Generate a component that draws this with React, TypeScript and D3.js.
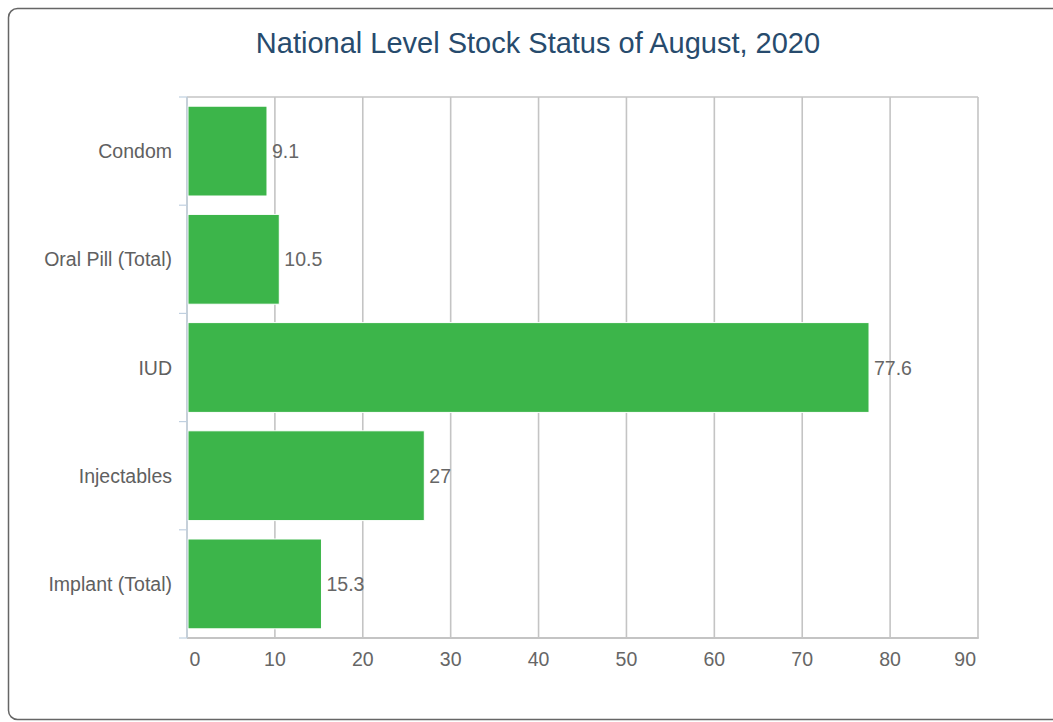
import { useMemo } from "react";
import * as d3 from "d3";

const TITLE = "National Level Stock Status of August, 2020";
const CATEGORIES = ["Condom", "Oral Pill (Total)", "IUD", "Injectables", "Implant (Total)"];
const VALUES = [9.1, 10.5, 77.6, 27, 15.3];
const X_TICKS = [0, 10, 20, 30, 40, 50, 60, 70, 80, 90];

const WIDTH = 1053;
const HEIGHT = 722;
const PLOT = { left: 187, right: 978, top: 97, bottom: 638 };
const FONT = "'Liberation Sans', Arial, sans-serif";
const LABEL_SIZE = 19.5;

export default function App() {
  const xScale = useMemo(
    () => d3.scaleLinear().domain([0, 90]).range([PLOT.left, PLOT.right]),
    []
  );
  const yScale = useMemo(
    () =>
      d3
        .scaleBand()
        .domain(CATEGORIES)
        .range([PLOT.top, PLOT.bottom])
        .paddingInner(0.17)
        .paddingOuter(0.085),
    []
  );
  const step = yScale.step();
  const bandEdges = d3.range(CATEGORIES.length + 1).map((i) => PLOT.top + i * step);

  // first and last tick labels are pushed inside the plot, like the original
  const tickAnchor = (i: number) =>
    i === 0 ? "start" : i === X_TICKS.length - 1 ? "end" : "middle";
  const tickX = (t: number, i: number) =>
    i === 0 ? xScale(t) + 2.5 : i === X_TICKS.length - 1 ? xScale(t) - 2 : xScale(t);

  return (
    <svg
      width={WIDTH}
      height={HEIGHT}
      style={{ position: "absolute", left: 0, top: 0, fontFamily: FONT }}
    >
      <rect x={8.5} y={8.5} width={1100} height={711} rx={9} fill="#fff" stroke="#666" strokeWidth={1.5} />
      <text x={538} y={53} textAnchor="middle" fontSize={29} fill="#274b6d">
        {TITLE}
      </text>

      {/* grid */}
      {X_TICKS.map((t) => (
        <line
          key={t}
          x1={xScale(t)}
          x2={xScale(t)}
          y1={PLOT.top}
          y2={PLOT.bottom}
          stroke="#c4c4c4"
          strokeWidth={1.6}
        />
      ))}
      <line x1={PLOT.left} x2={PLOT.right} y1={PLOT.top} y2={PLOT.top} stroke="#c4c4c4" strokeWidth={1.6} />
      <line x1={PLOT.left} x2={PLOT.right + 0.8} y1={PLOT.bottom} y2={PLOT.bottom} stroke="#c4c4c4" strokeWidth={2} />

      {/* bars */}
      {CATEGORIES.map((c, i) => {
        const y = yScale(c) ?? 0;
        const x1 = xScale(VALUES[i]);
        const mid = y + yScale.bandwidth() / 2;
        return (
          <g key={c}>
            <rect
              x={PLOT.left + 1}
              y={y}
              width={x1 - PLOT.left - 1}
              height={yScale.bandwidth()}
              fill="#3cb54a"
              stroke="#fff"
              strokeWidth={1}
            />
            <text x={x1 + 5} y={mid + 7} fontSize={LABEL_SIZE} fill="#666">
              {VALUES[i]}
            </text>
            <text x={172} y={mid + 7} fontSize={LABEL_SIZE} fill="#606060" textAnchor="end">
              {c}
            </text>
          </g>
        );
      })}

      {/* y axis */}
      <line x1={PLOT.left} x2={PLOT.left} y1={PLOT.top} y2={PLOT.bottom} stroke="#c0d0e0" strokeWidth={1.2} />
      {bandEdges.map((e, i) => (
        <line key={i} x1={PLOT.left - 8} x2={PLOT.left} y1={e} y2={e} stroke="#c0d0e0" strokeWidth={1.2} />
      ))}

      {/* x tick labels */}
      {X_TICKS.map((t, i) => (
        <text key={t} x={tickX(t, i)} y={666} textAnchor={tickAnchor(i)} fontSize={LABEL_SIZE} fill="#666">
          {t}
        </text>
      ))}
    </svg>
  );
}
